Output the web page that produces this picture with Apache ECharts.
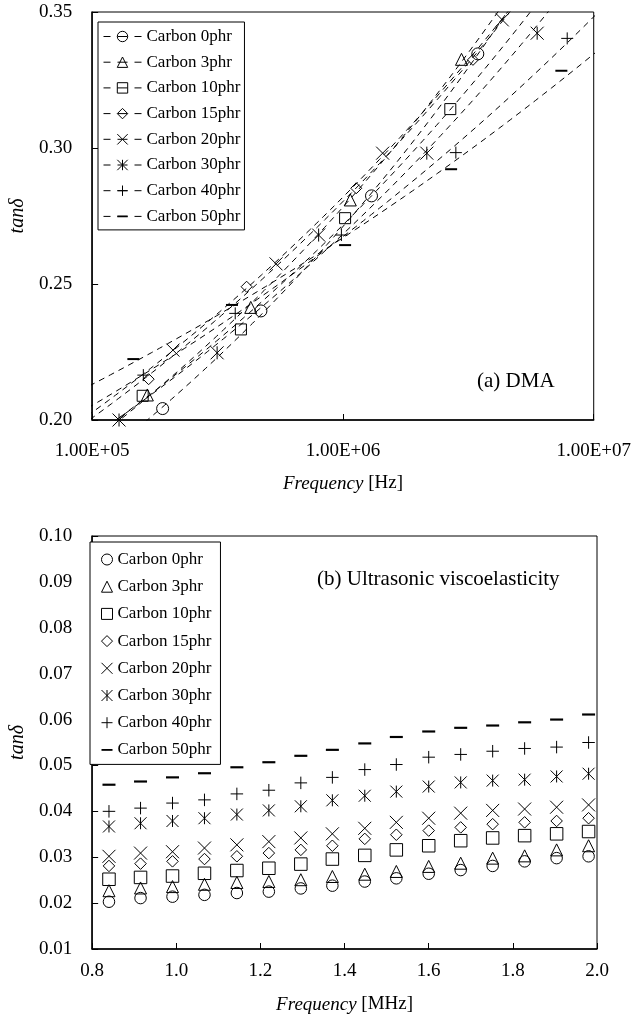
<!DOCTYPE html>
<html><head><meta charset="utf-8">
<script src="https://cdn.jsdelivr.net/npm/echarts@6/dist/echarts.min.js"></script>
<style>html,body{margin:0;padding:0;background:#fff}#c{width:634px;height:1021px}</style>
</head><body><div id="c"></div>
<script>
// ---------- data ----------
const seriesNames = ['Carbon 0phr','Carbon 3phr','Carbon 10phr','Carbon 15phr','Carbon 20phr','Carbon 30phr','Carbon 40phr','Carbon 50phr'];

// (a) DMA : frequency [Hz] and tan delta
const dmaFreq0  = [1.91e5, 4.71e5, 1.30e6, 3.45e6];
const dmaTan0   = [0.2042, 0.2401, 0.2824, 0.3346];
const dmaFreq3  = [1.66e5, 4.29e5, 1.07e6, 2.97e6];
const dmaTan3   = [0.2092, 0.2414, 0.2809, 0.3326];
const dmaFreq10 = [1.59e5, 3.92e5, 1.02e6, 2.68e6];
const dmaTan10  = [0.2089, 0.2333, 0.2742, 0.3143];
const dmaFreq15 = [1.68e5, 4.13e5, 1.13e6, 3.30e6];
const dmaTan15  = [0.2150, 0.2490, 0.2852, 0.3324];
const dmaFreq20 = [2.10e5, 5.41e5, 1.44e6, 4.32e6];
const dmaTan20  = [0.2257, 0.2574, 0.2981, 0.3471];
const dmaFreq30 = [1.28e5, 3.15e5, 8.00e5, 2.16e6, 5.95e6];
const dmaTan30  = [0.2000, 0.2247, 0.2680, 0.2981, 0.3422];
const dmaFreq40 = [1.60e5, 3.72e5, 9.86e5, 2.82e6, 7.84e6];
const dmaTan40  = [0.2165, 0.2392, 0.2680, 0.2983, 0.3403];
const dmaFreq50 = [1.46e5, 3.61e5, 1.02e6, 2.70e6, 7.43e6];
const dmaTan50  = [0.2224, 0.2423, 0.2643, 0.2922, 0.3284];

// (b) Ultrasonic viscoelasticity : frequency [MHz] and tan delta
const usFreq = [0.84, 0.915, 0.991, 1.067, 1.144, 1.22, 1.296, 1.371, 1.448, 1.523, 1.6, 1.676, 1.752, 1.828, 1.904, 1.98];
const usTan0  = [0.0203,0.0211,0.0214,0.0218,0.0222,0.0225,0.0232,0.0238,0.0247,0.0254,0.0264,0.0272,0.0281,0.0291,0.0298,0.0302];
const usTan3  = [0.0227,0.0233,0.0236,0.0241,0.0245,0.0247,0.0251,0.0258,0.0263,0.0269,0.0280,0.0287,0.0298,0.0303,0.0316,0.0325];
const usTan10 = [0.0252,0.0256,0.0259,0.0265,0.0271,0.0276,0.0285,0.0296,0.0304,0.0316,0.0325,0.0336,0.0342,0.0347,0.0351,0.0356];
const usTan15 = [0.0281,0.0286,0.0291,0.0296,0.0302,0.0309,0.0316,0.0325,0.0340,0.0349,0.0358,0.0365,0.0372,0.0376,0.0379,0.0385];
const usTan20 = [0.0302,0.0309,0.0312,0.0320,0.0327,0.0334,0.0342,0.0351,0.0363,0.0376,0.0385,0.0396,0.0402,0.0405,0.0409,0.0414];
const usTan30 = [0.0367,0.0374,0.0379,0.0385,0.0393,0.0402,0.0411,0.0424,0.0434,0.0443,0.0454,0.0463,0.0467,0.0469,0.0476,0.0482];
const usTan40 = [0.0400,0.0407,0.0418,0.0425,0.0438,0.0446,0.0462,0.0474,0.0491,0.0502,0.0518,0.0524,0.0531,0.0537,0.0540,0.0550];
const usTan50 = [0.0458,0.0465,0.0474,0.0483,0.0496,0.0507,0.0521,0.0534,0.0548,0.0562,0.0574,0.0582,0.0587,0.0594,0.0600,0.0611];

// ---------- styling ----------
const FONT = 'Liberation Serif';
const dmaX = [dmaFreq0,dmaFreq3,dmaFreq10,dmaFreq15,dmaFreq20,dmaFreq30,dmaFreq40,dmaFreq50];
const dmaY = [dmaTan0,dmaTan3,dmaTan10,dmaTan15,dmaTan20,dmaTan30,dmaTan40,dmaTan50];
const usY  = [usTan0,usTan3,usTan10,usTan15,usTan20,usTan30,usTan40,usTan50];

const SYM_X = 'path://M0,0L10,10M10,0L0,10';
const SYM_AST = 'path://M0,0L10,10M10,0L0,10M5,0L5,10';
const SYM_PLUS = 'path://M5,0L5,10M0,5L10,5';
// thin bar centred in a square box (so legend icons keep the shape)
const SYM_DASH = 'path://M0,0L0,0M0,5L12,5L12,7L0,7ZM12,12L12,12';
const symbols = ['circle','triangle','rect','diamond',SYM_X,SYM_AST,SYM_PLUS,SYM_DASH];
const sizesTop = [12,12,11,11,13,13,12,12];
const sizesBot = [11.5,12,12.5,11.5,13,12,12.5,13];

const hollow = {color:'rgba(0,0,0,0)', borderColor:'#000', borderWidth:1, opacity:1};
const solid = {color:'#000', borderColor:'#000', borderWidth:0, opacity:1};
const styleFor = i => (i === 7 ? solid : hollow);

function powerFit(xs, ys){
  const n = xs.length; let sx=0, sy=0, sxx=0, sxy=0;
  for (let i=0;i<n;i++){ const lx=Math.log(xs[i]), ly=Math.log(ys[i]); sx+=lx; sy+=ly; sxx+=lx*lx; sxy+=lx*ly; }
  const b = (n*sxy - sx*sy)/(n*sxx - sx*sx); const a = (sy - b*sx)/n;
  return {a, b};
}
function trend(xs, ys){
  const f = powerFit(xs, ys);
  const lo = Math.log10(Math.min(...xs)) - 0.45, hi = Math.log10(Math.max(...xs)) + 0.45;
  const pts = [];
  for (let k=0;k<=80;k++){ const x = Math.pow(10, lo + (hi-lo)*k/80); pts.push([x, Math.exp(f.a + f.b*Math.log(x))]); }
  return pts;
}
const zip = (xs, ys) => xs.map((x,i)=>[x, ys[i]]);

const series = [];
seriesNames.forEach((nm, i) => {
  series.push({
    name: nm + ' trend', type:'line', xAxisIndex:0, yAxisIndex:0,
    data: trend(dmaX[i], dmaY[i]), showSymbol:false, symbol:'none', clip:true, silent:true, z:2,
    lineStyle:{color:'#000', width:1, type:[6,5]}
  });
});
seriesNames.forEach((nm, i) => {
  series.push({
    name: nm, type:'line', xAxisIndex:0, yAxisIndex:0, data: zip(dmaX[i], dmaY[i]),
    symbol: symbols[i], symbolSize: sizesTop[i], symbolKeepAspect:true, showSymbol:true, showAllSymbol:true,
    color:'#000', lineStyle:{opacity:0, width:1, color:'#000'}, itemStyle: styleFor(i), clip:true, z:3, silent:true
  });
});
seriesNames.forEach((nm, i) => {
  series.push({
    name: 'b:' + nm, type:'scatter', xAxisIndex:1, yAxisIndex:1, data: zip(usFreq, usY[i]),
    symbol: symbols[i], symbolSize: sizesBot[i], symbolKeepAspect:true,
    itemStyle: styleFor(i), silent:true, z:3
  });
});

const tickLabel = {fontFamily:FONT, fontSize:19, color:'#000'};
const axLine = {show:true, onZero:false, lineStyle:{color:'#000', width:1.5}};
const axTick = {show:true, inside:true, length:6, lineStyle:{color:'#000', width:1}};
const nameStyle = {fontFamily:FONT, fontSize:19, color:'#000', rich:{i:{fontFamily:FONT, fontSize:19, fontStyle:'italic', color:'#000'}}};

function sci(v){
  const e = Math.round(Math.log10(v)); const m = v/Math.pow(10,e);
  return m.toFixed(2) + 'E' + (e<0?'-':'+') + (Math.abs(e)<10?'0':'') + Math.abs(e);
}

const option = {
  animation:false,
  backgroundColor:'#fff',
  title:[
    {text:'(a) DMA', left:477, top:371, padding:0, textStyle:{fontFamily:FONT, fontSize:21, fontWeight:'normal', color:'#000'}},
    {text:'(b) Ultrasonic viscoelasticity', left:317, top:569, padding:0, textStyle:{fontFamily:FONT, fontSize:21, fontWeight:'normal', color:'#000'}}
  ],
  grid:[
    {left:86, top:12, width:511, height:408, show:true, borderColor:'#000', borderWidth:1, backgroundColor:'rgba(0,0,0,0)'},
    {left:84, top:536, width:513, height:413, show:true, borderColor:'#000', borderWidth:1, backgroundColor:'rgba(0,0,0,0)'}
  ],
  legend:[
    {
      orient:'vertical', left:98, top:22, selectedMode:false,
      data: seriesNames.map((n,i)=>({name:n, itemStyle: styleFor(i)})),
      itemWidth:38, itemHeight:13, itemGap:8.7, padding:[6,4,5,5],
      borderColor:'#000', borderWidth:1, backgroundColor:'#fff',
      textStyle:{fontFamily:FONT, fontSize:17, color:'#000'},
      lineStyle:{color:'#000', width:1, type:[7,7,10,7,7], opacity:1},
      itemStyle: hollow
    },
    {
      orient:'vertical', left:90, top:542, selectedMode:false,
      data: seriesNames.map((n,i)=>({name:'b:'+n, itemStyle: styleFor(i)})),
      formatter: n => n.replace(/^b:/,''),
      itemWidth:11, itemHeight:11, itemGap:10.2, padding:[9,9,6,11],
      borderColor:'#000', borderWidth:1, backgroundColor:'#fff',
      textStyle:{fontFamily:FONT, fontSize:17, color:'#000'},
      itemStyle: hollow
    }
  ],
  xAxis:[
    {type:'log', logBase:10, gridIndex:0, min:1e5, max:1e7,
     axisLine:axLine, axisTick:axTick, minorTick:{show:false}, splitLine:{show:false},
     axisLabel:Object.assign({formatter:sci, margin:22, showMinLabel:true, showMaxLabel:true}, tickLabel),
     name:'{i|Frequency} [Hz]', nameLocation:'middle', nameGap:54, nameTextStyle:nameStyle},
    {type:'value', gridIndex:1, min:0.8, max:2.0, interval:0.2,
     axisLine:axLine, axisTick:axTick, splitLine:{show:false},
     axisLabel:Object.assign({formatter:v=>v.toFixed(1), margin:13, showMinLabel:true, showMaxLabel:true}, tickLabel),
     name:'{i|Frequency} [MHz]', nameLocation:'middle', nameGap:46, nameTextStyle:nameStyle}
  ],
  yAxis:[
    {type:'value', gridIndex:0, min:0.20, max:0.35, interval:0.05,
     axisLine:axLine, axisTick:axTick, splitLine:{show:false},
     axisLabel:Object.assign({formatter:v=>v.toFixed(2), margin:20, padding:[6,0,0,0]}, tickLabel),
     name:'tanδ', nameLocation:'middle', nameGap:59,
     nameTextStyle:{fontFamily:FONT, fontSize:20, fontStyle:'italic', color:'#000'}},
    {type:'value', gridIndex:1, min:0.01, max:0.10, interval:0.01,
     axisLine:axLine, axisTick:axTick, splitLine:{show:false},
     axisLabel:Object.assign({formatter:v=>v.toFixed(2), margin:20, padding:[6,0,0,0]}, tickLabel),
     name:'tanδ', nameLocation:'middle', nameGap:57,
     nameTextStyle:{fontFamily:FONT, fontSize:20, fontStyle:'italic', color:'#000'}}
  ],
  series: series
};
const chart = echarts.init(document.getElementById('c'), null, {renderer:'canvas'});
chart.setOption(option);
</script>
</body></html>
